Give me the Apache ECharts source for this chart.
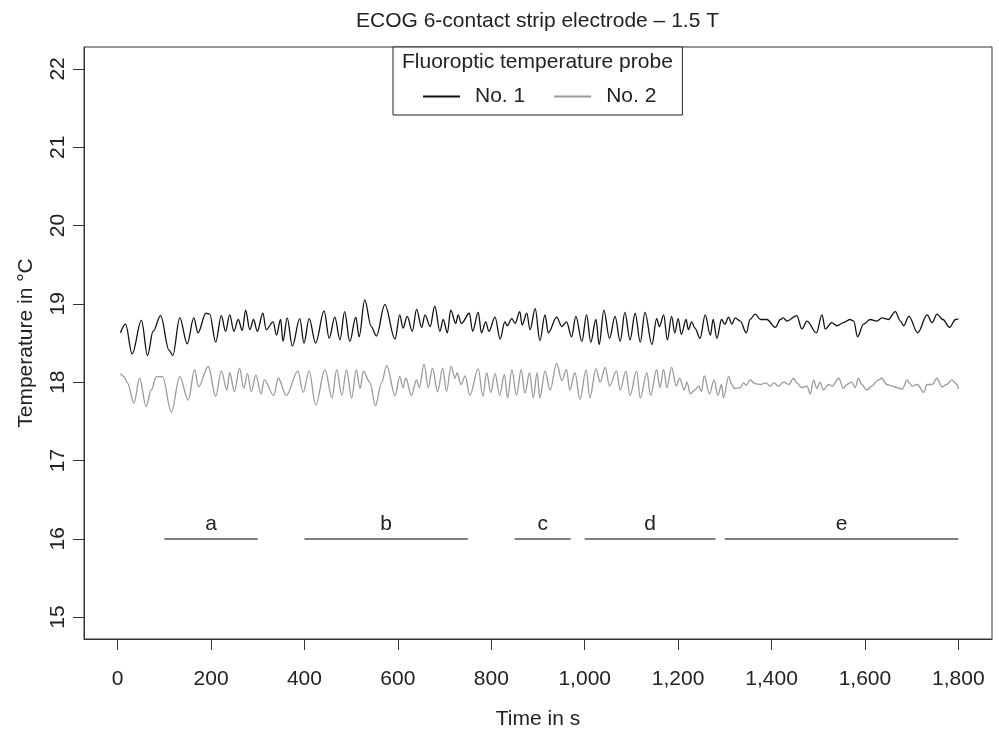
<!DOCTYPE html>
<html>
<head>
<meta charset="utf-8">
<script src="https://cdn.jsdelivr.net/npm/echarts@6/dist/echarts.min.js"></script>
<style>html,body{margin:0;padding:0;background:#fff}#chart{width:999px;height:730px}</style>
</head>
<body>
<div id="chart"></div>
<script>
// Time ticks and temperature ticks
var xTicks = [0,200,400,600,800,1000,1200,1400,1600,1800];
var yTicks = [15,16,17,18,19,20,21,22];

// Probe No. 1 (black): time (s) and temperature (°C)
var t1 = [6,17,31,51,64,76,92,110,118,133,149,163,172,189,197,210,222,231,240,249,258,267,274,283,291,299,311,318,333,340,349,354,363,374,390,399,410,424,442,453,465,476,486,497,510,517,529,543,554,572,594,604,611,620,631,640,651,658,669,679,690,697,706,713,724,729,736,753,760,772,779,788,795,808,819,829,834,844,851,861,866,876,883,894,904,915,922,940,951,961,972,981,994,1004,1013,1024,1031,1041,1053,1065,1076,1086,1097,1108,1119,1129,1144,1154,1160,1169,1177,1186,1193,1200,1207,1217,1222,1229,1236,1247,1258,1269,1275,1283,1293,1300,1308,1315,1322,1333,1346,1354,1365,1376,1390,1408,1419,1425,1433,1454,1465,1476,1496,1508,1515,1529,1540,1554,1568,1576,1584,1597,1611,1626,1636,1650,1665,1676,1683,1694,1713,1733,1744,1754,1767,1781,1794,1800];
var v1 = [18.63,18.74,18.36,18.79,18.34,18.65,18.85,18.41,18.34,18.82,18.49,18.82,18.63,18.88,18.87,18.51,18.85,18.65,18.86,18.65,18.80,18.66,18.92,18.67,18.80,18.65,18.88,18.67,18.77,18.60,18.80,18.52,18.82,18.46,18.81,18.50,18.81,18.50,18.91,18.56,18.83,18.54,18.90,18.52,18.83,18.58,19.05,18.71,18.59,18.99,18.55,18.86,18.69,18.84,18.65,18.93,18.70,18.86,18.71,18.97,18.65,18.80,18.63,18.92,18.75,18.86,18.75,18.88,18.65,18.89,18.63,18.77,18.65,18.83,18.55,18.77,18.72,18.81,18.75,18.90,18.73,18.88,18.67,18.94,18.53,18.86,18.63,18.83,18.71,18.77,18.58,18.84,18.52,18.86,18.51,18.80,18.48,18.92,18.56,18.84,18.52,18.89,18.54,18.88,18.51,18.89,18.48,18.81,18.71,18.86,18.54,18.84,18.63,18.81,18.61,18.80,18.67,18.77,18.69,18.56,18.86,18.60,18.80,18.56,18.80,18.74,18.83,18.74,18.82,18.78,18.63,18.80,18.87,18.80,18.80,18.70,18.80,18.82,18.78,18.85,18.68,18.78,18.63,18.86,18.68,18.76,18.72,18.76,18.80,18.78,18.58,18.74,18.80,18.78,18.82,18.80,18.90,18.78,18.72,18.84,18.63,18.86,18.76,18.87,18.80,18.70,18.80,18.81];

// Probe No. 2 (grey): time (s) and temperature (°C)
var t2 = [6,14,21,35,47,61,72,83,96,115,133,151,165,173,194,210,222,234,240,250,261,270,278,286,296,307,314,334,344,361,386,397,410,424,444,459,469,480,490,501,511,519,526,540,552,565,576,594,604,611,617,629,640,646,656,665,674,685,696,704,714,722,727,735,744,754,772,782,790,799,808,818,828,835,844,854,864,872,882,890,898,904,915,926,940,951,961,968,979,990,1003,1011,1024,1033,1044,1053,1068,1076,1088,1097,1111,1119,1133,1141,1154,1161,1169,1176,1186,1196,1203,1213,1219,1226,1236,1244,1250,1256,1267,1277,1285,1293,1297,1308,1315,1320,1333,1340,1346,1354,1365,1376,1387,1398,1405,1415,1426,1437,1447,1454,1465,1476,1483,1490,1497,1504,1511,1522,1530,1544,1554,1561,1572,1579,1586,1593,1604,1615,1626,1636,1647,1658,1669,1680,1690,1695,1701,1712,1726,1733,1744,1754,1765,1775,1786,1797,1800];
var v2 = [18.11,18.07,17.99,17.73,18.05,17.69,17.90,18.07,18.07,17.62,18.07,17.77,18.16,17.94,18.20,17.82,18.14,17.90,18.12,17.88,18.18,17.92,18.11,17.88,18.09,17.85,18.03,17.83,18.05,17.83,18.14,17.87,18.14,17.71,18.16,17.80,18.16,17.83,18.16,17.80,18.16,17.92,18.14,18.00,17.70,17.99,18.21,17.83,18.07,17.93,18.05,17.83,18.03,17.93,18.23,17.93,18.18,17.88,18.18,17.88,18.20,18.05,18.12,17.97,18.08,17.83,18.17,17.82,18.12,17.87,18.11,17.83,18.10,17.80,18.16,17.83,18.16,17.86,18.12,17.80,18.12,17.80,18.14,17.90,18.24,18.02,18.16,17.90,18.12,17.78,18.16,17.80,18.17,18.00,18.19,17.95,18.14,17.90,18.14,17.83,18.14,17.80,18.12,17.83,18.16,17.93,18.16,17.93,18.19,17.95,18.05,17.90,18.00,17.85,17.90,17.95,17.88,18.08,17.85,18.03,17.83,17.97,17.80,18.07,17.97,17.92,17.93,17.99,17.96,18.03,17.98,17.97,17.99,17.95,17.99,17.95,18.00,17.97,18.05,17.99,17.93,17.95,17.85,18.03,17.92,18.00,17.90,17.97,17.95,18.05,17.92,17.97,18.00,17.93,18.05,17.97,17.90,17.95,18.02,18.05,17.97,17.95,17.93,17.91,18.03,17.99,17.95,17.97,17.87,17.97,17.97,18.05,17.94,17.97,18.03,17.97,17.91];

// Measurement periods a-e
var segLabels = ['a','b','c','d','e'];
var segStart = [100,400,850,1000,1300];
var segEnd = [300,750,970,1280,1800];
var segLevel = 16;

var FONT = 'Liberation Sans, Arial, Helvetica, sans-serif';
var TXT = '#222';

function pairs(t, v){ return t.map(function(x,i){ return [x, v[i]]; }); }

var chart = echarts.init(document.getElementById('chart'), null, {renderer:'canvas'});
var option = {
  animation: false,
  backgroundColor: '#fff',
  textStyle: {fontFamily: FONT},
  title: [
    {text: 'ECOG 6-contact strip electrode \u2013 1.5 T', left: 356, top: 11, padding: 0,
     textStyle: {fontSize: 21, fontWeight: 'normal', color: TXT, fontFamily: FONT}},
    {text: 'Fluoroptic temperature probe', left: 402, top: 52, padding: 0, z: 10,
     textStyle: {fontSize: 21, fontWeight: 'normal', color: TXT, fontFamily: FONT}}
  ],
  legend: {
    data: ['No. 1','No. 2'],
    left: 393, top: 47,
    padding: [39, 26, 8, 30],
    itemGap: 29, itemWidth: 47, itemHeight: 2,
    icon: 'path://M0,0 H37 V2 H0 Z M47,0 L47,0',
    borderColor: '#222', borderWidth: 1,
    backgroundColor: '#fff',
    textStyle: {fontSize: 21, color: TXT, fontFamily: FONT},
    z: 5
  },
  grid: {left: 84, right: 7, top: 47, bottom: 91, show: true, borderColor: '#333', borderWidth: 1,
         backgroundColor: 'transparent', containLabel: false, outerBoundsMode: 'none'},
  xAxis: {
    type: 'value', min: -72, max: 1872,
    name: 'Time in s', nameLocation: 'middle', nameGap: 70,
    nameTextStyle: {fontSize: 21, color: TXT, fontFamily: FONT},
    axisLine: {show: true, onZero: false, lineStyle: {color: '#333'}},
    axisTick: {show: true, customValues: xTicks, length: 11, inside: false, lineStyle: {color: '#333'}},
    axisLabel: {customValues: xTicks, margin: 30, fontSize: 21, color: TXT, fontFamily: FONT,
      formatter: function(v){ return Number(v).toLocaleString('en-US'); }},
    splitLine: {show: false}
  },
  yAxis: {
    type: 'value', min: 14.72, max: 22.28,
    name: 'Temperature in \u00B0C', nameLocation: 'middle', nameGap: 47, nameRotate: 90,
    nameTextStyle: {fontSize: 21, color: TXT, fontFamily: FONT},
    axisLine: {show: true, onZero: false, lineStyle: {color: '#333'}},
    axisTick: {show: true, customValues: yTicks, length: 11, inside: false, lineStyle: {color: '#333'}},
    axisLabel: {customValues: yTicks, rotate: 90, margin: 15, fontSize: 21, color: TXT, fontFamily: FONT},
    splitLine: {show: false}
  },
  series: [
    {name: 'No. 1', type: 'line', data: pairs(t1, v1), showSymbol: false, symbol: 'none',
     smooth: 0.35, smoothMonotone: 'x',
     lineStyle: {color: '#111', width: 1.3}, itemStyle: {color: '#111'}, z: 3},
    {name: 'No. 2', type: 'line', data: pairs(t2, v2), showSymbol: false, symbol: 'none',
     smooth: 0.35, smoothMonotone: 'x',
     lineStyle: {color: '#9a9a9a', width: 1.3}, itemStyle: {color: '#9a9a9a'}, z: 2},
    {name: 'periods', type: 'line', data: [], silent: true,
     markLine: {
       silent: true, symbol: ['none','none'], animation: false,
       lineStyle: {color: '#555', width: 1.5, type: 'solid'},
       label: {show: true, position: 'insideMiddleTop', formatter: '{b}', distance: 4,
               fontSize: 21, color: TXT, fontFamily: FONT},
       data: segStart.map(function(s,i){
         return [{coord: [s, segLevel], name: segLabels[i]}, {coord: [segEnd[i], segLevel]}];
       })
     }}
  ]
};
chart.setOption(option);
</script>
</body>
</html>
